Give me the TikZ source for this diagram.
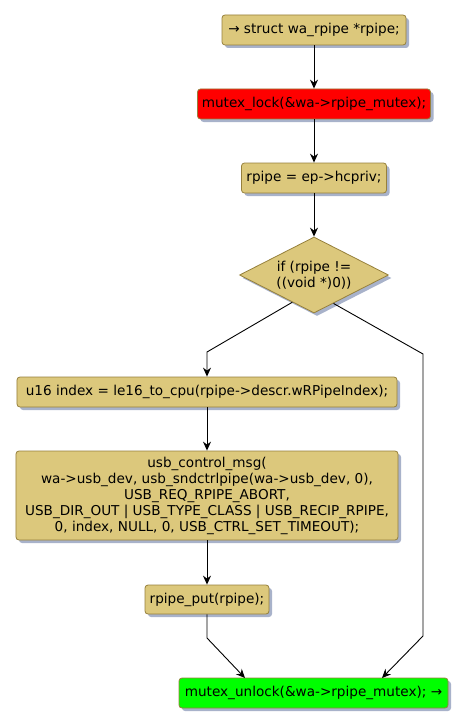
\documentclass[tikz,border=0pt]{standalone}
\usepackage{fontspec}
\setmainfont{DejaVu Sans}
\usetikzlibrary{shapes.geometric,shadows,arrows.meta,calc}
\definecolor{boxfill}{RGB}{220,200,124}
\definecolor{boxline}{RGB}{150,128,60}
\definecolor{shadowc}{RGB}{168,178,202}
\tikzset{
  every node/.style={font=\fontsize{13.6bp}{16bp}\selectfont},
  shad/.style={drop shadow={shadow xshift=3bp,shadow yshift=-3bp,fill=shadowc,opacity=1}},
  actbox/.style={draw=boxline,fill=boxfill,rounded corners=3bp,line width=0.8bp,minimum height=30bp,inner sep=1bp,align=center,shad},
  decbox/.style={draw=boxline,fill=boxfill,diamond,aspect=2,minimum width=149bp,minimum height=76bp,inner sep=1bp,align=center,line width=0.8bp,shad},
  arr/.style={draw=black,line width=0.9bp,-{Stealth[length=9bp,width=8bp,inset=3bp]}},
  ln/.style={draw=black,line width=0.9bp}
}
\begin{document}
\begin{tikzpicture}[x=1bp,y=-1bp]
\useasboundingbox (0,0) rectangle (467,727);
\node[actbox,minimum width=184bp] (b1) at (314,30) {→ struct wa\_rpipe *rpipe;};
\node[actbox,minimum width=233bp,fill=red] (b2) at (314,104) {mutex\_lock(\&wa->rpipe\_mutex);};
\node[actbox,minimum width=145bp] (b3) at (314,178) {rpipe = ep->hcpriv;};
\node[decbox] (d) at (314,275) {if (rpipe !=\\((void *)0))};
\node[actbox,minimum width=380bp] (b4) at (207,392) {u16 index = le16\_to\_cpu(rpipe->descr.wRPipeIndex);};
\node[actbox,minimum width=382bp,minimum height=89bp] (b5) at (207,495.5) {usb\_control\_msg(\\wa->usb\_dev, usb\_sndctrlpipe(wa->usb\_dev, 0),\\USB\_REQ\_RPIPE\_ABORT,\\USB\_DIR\_OUT | USB\_TYPE\_CLASS | USB\_RECIP\_RPIPE,\\0, index, NULL, 0, USB\_CTRL\_SET\_TIMEOUT);};
\node[actbox,minimum width=124bp,minimum height=29bp] (b6) at (207,599.5) {rpipe\_put(rpipe);};
\node[actbox,minimum width=269bp,fill=green] (b7) at (313.5,693) {mutex\_unlock(\&wa->rpipe\_mutex); →};
\coordinate (dl) at ($(d.west)!0.71!(d.south)$);
\coordinate (dr) at ($(d.south)!0.26!(d.east)$);
\coordinate (l1) at (207,352);
\coordinate (r1) at (423,354);
\coordinate (r2) at (423,636);
\coordinate (e7r) at (382,678);
\coordinate (e7l) at (245,678);
\coordinate (m6) at (207,638);
\draw[arr] (b1.south) -- (b2.north);
\draw[arr] (b2.south) -- (b3.north);
\draw[arr] (b3.south) -- (d.north);
\draw[arr] (dl) -- (l1) -- (b4.north);
\draw[arr] (b4.south) -- (b5.north);
\draw[arr] (b5.south) -- (b6.north);
\draw[arr] (b6.south) -- (m6) -- (e7l);
\draw[arr] (dr) -- (r1) -- (r2) -- (e7r);
\end{tikzpicture}
\end{document}
